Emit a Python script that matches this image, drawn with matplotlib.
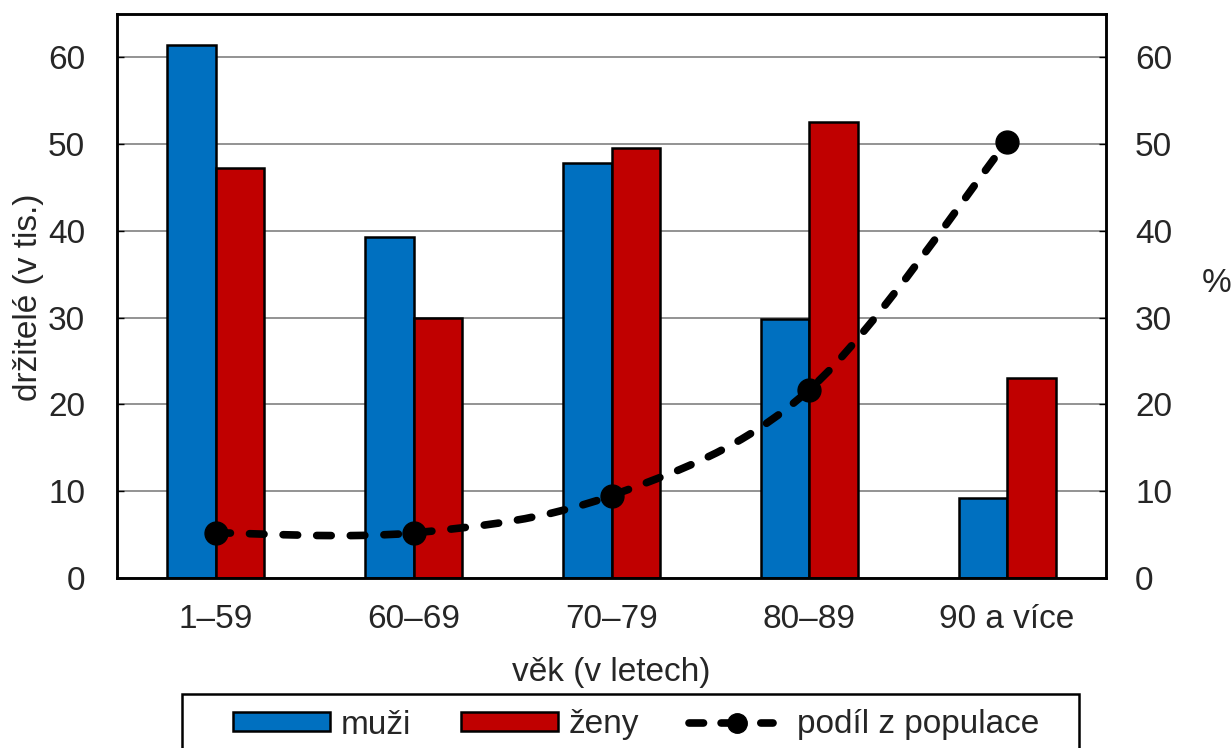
import numpy as np
import matplotlib.pyplot as plt
from matplotlib.path import Path
from matplotlib.patches import PathPatch, Patch, Rectangle
from matplotlib.lines import Line2D

plt.rcParams['font.family'] = ['Liberation Sans', 'DejaVu Sans']
plt.rcParams['font.size'] = 24
plt.rcParams['text.color'] = '#262626'

categories = ['1–59', '60–69', '70–79', '80–89', '90 a více']
muzi = [61.4, 39.3, 47.8, 29.9, 9.2]
zeny = [47.2, 30.0, 49.6, 52.6, 23.1]
podil = [5.2, 5.2, 9.5, 21.7, 50.3]

blue = '#0070C0'
red = '#C00000'

fig = plt.figure(figsize=(12.32, 7.48), dpi=100)
ax = fig.add_axes([117 / 1232, 1 - 578 / 748, 989 / 1232, 564 / 748])

x = np.arange(len(categories))
w = 0.245
ax.bar(x - w / 2, muzi, w, color=blue, edgecolor='black', linewidth=1.8, zorder=2)
ax.bar(x + w / 2, zeny, w, color=red, edgecolor='black', linewidth=1.8, zorder=2)

ax.set_xlim(-0.5, len(categories) - 0.5)
ax.set_ylim(0, 65)
ax.set_yticks(np.arange(0, 61, 10))
ax.set_xticks(x)
ax.set_xticklabels(categories)
ax.grid(axis='y', color='#808080', linewidth=1.2)
ax.set_axisbelow(True)
ax.tick_params(axis='y', direction='in', length=5, width=1, pad=23, labelcolor='#262626')
ax.tick_params(axis='x', length=0, pad=19, labelcolor='#262626')

ax2 = ax.twinx()
ax2.set_ylim(0, 65)
ax2.set_yticks(np.arange(0, 61, 10))
ax2.tick_params(axis='y', direction='in', length=5, width=1, pad=21, labelcolor='#262626')

for a in (ax, ax2):
    for s in a.spines.values():
        s.set_linewidth(1.8)
        s.set_color('black')

# smoothed line (Catmull-Rom style bezier like Excel)
pts = np.column_stack([x, podil]).astype(float)
n = len(pts)
verts = [pts[0]]
codes = [Path.MOVETO]
for i in range(n - 1):
    p0 = pts[i - 1] if i > 0 else pts[i]
    p3 = pts[i + 2] if i + 2 < n else pts[i + 1]
    c1 = pts[i] + (pts[i + 1] - p0) / 6
    c2 = pts[i + 1] - (p3 - pts[i]) / 6
    verts += [c1, c2, pts[i + 1]]
    codes += [Path.CURVE4] * 3
curve = PathPatch(Path(verts, codes), facecolor='none', edgecolor='black',
                  linewidth=5.5, linestyle=(0, (1.9, 2.5)), zorder=3)
curve.set_capstyle('round')
ax2.add_patch(curve)
ax2.plot(x, podil, 'o', color='black', markersize=16.5, zorder=4)

fig.text(29 / 1232, 1 - 297 / 748, 'držitelé (v tis.)', rotation=90, ha='center', va='center')
fig.text(1217 / 1232, 1 - 284 / 748, '%', ha='center', va='center')
fig.text(611 / 1232, 1 - 672 / 748, 'věk (v letech)', ha='center', va='center')

handles = [
    Patch(facecolor=blue, edgecolor='black', linewidth=1.8),
    Patch(facecolor=red, edgecolor='black', linewidth=1.8),
    Line2D([0], [0], color='black', linewidth=5.5, dashes=(1.9, 2.3, 2.9, 2.3, 1.6, 6),
           marker='o', markersize=14, dash_capstyle='round'),
]
labels = ['muži', 'ženy', 'podíl z populace']
fig.legend(handles, labels, loc='center', bbox_to_anchor=(636 / 1232, 1 - 725 / 748),
           ncol=3, frameon=False, handlelength=2.9, handleheight=0.5, handletextpad=0.33,
           columnspacing=1.5, borderpad=0, fontsize=24)
fig.patches.append(Rectangle((182 / 1232, -0.05), (1079 - 182) / 1232, 0.05 + 54 / 748,
                             transform=fig.transFigure, facecolor='none',
                             edgecolor='black', linewidth=1.8))

fig.savefig('out.png', dpi=100)
